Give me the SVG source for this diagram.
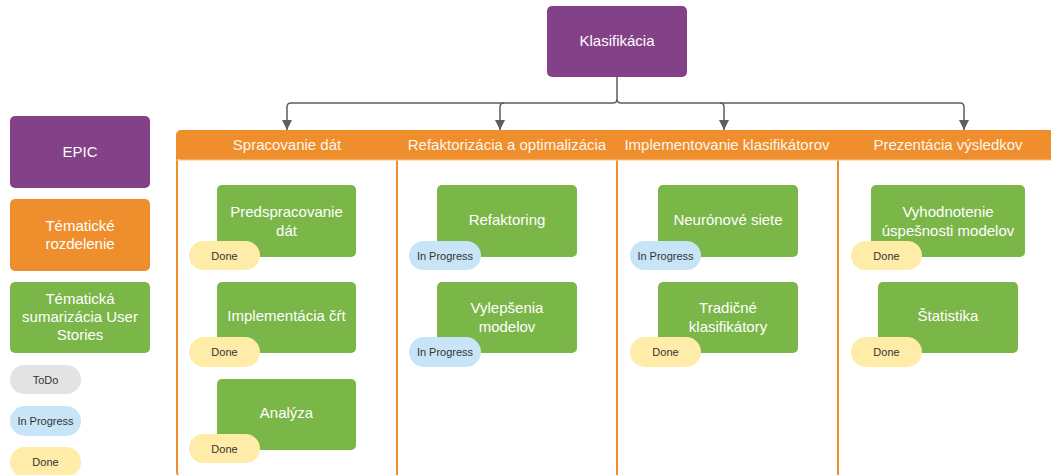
<svg xmlns="http://www.w3.org/2000/svg" width="1051" height="475" viewBox="0 0 1051 475">
  <defs>
    <marker id="arrow" viewBox="0 0 10 10" refX="10" refY="5" markerWidth="10" markerHeight="10" markerUnits="userSpaceOnUse" orient="auto">
      <path d="M0,0 L10,5 L0,10 Z" fill="#5e5e5e"/>
    </marker>
    <style>
      text { font-family: "Liberation Sans", Arial, sans-serif; text-anchor: middle; dominant-baseline: central; }
      .epic { fill: #834187; }
      .theme { fill: #ee8e2d; }
      .story { fill: #7ab648; }
      .todo { fill: #e3e3e3; }
      .prog { fill: #c7e5f7; }
      .done { fill: #ffeca9; }
      .lt { fill: #ffffff; font-size: 15px; }
      .ht { fill: #fff6ea; font-size: 15px; }
      .bt { fill: #333333; font-size: 11px; }
      .lane { fill: #ffffff; stroke: #ee8e2d; stroke-width: 2; }
      .div { stroke: #ee8e2d; stroke-width: 2; }
      .conn { fill: none; stroke: #5e5e5e; stroke-width: 1.5; }
    </style>
  </defs>

  <!-- swimlane container with header strip -->
  <g id="lanes">
    <rect class="lane" x="177" y="131" width="890" height="346" rx="5"/>
    <rect class="theme" x="176" y="130" width="880" height="30" rx="5"/>
    <line x1="176" y1="160" x2="1051" y2="160" stroke="#f9c48c" stroke-width="1"/>
    <line class="div" x1="397" y1="160.5" x2="397" y2="475"/>
    <line class="div" x1="617" y1="160.5" x2="617" y2="475"/>
    <line class="div" x1="838" y1="160.5" x2="838" y2="475"/>
    <text class="ht" x="287" y="144">Spracovanie dát</text>
    <text class="ht" x="507" y="144">Refaktorizácia a optimalizácia</text>
    <text class="ht" x="727" y="144">Implementovanie klasifikátorov</text>
    <text class="ht" x="948" y="144">Prezentácia výsledkov</text>
  </g>

  <!-- connectors -->
  <g id="connectors">
    <path class="conn" d="M617,77 V99 Q617,103 613,103 H291 Q287,103 287,107 V130" marker-end="url(#arrow)"/>
    <path class="conn" d="M504,103 Q500,103 500,107 V130" marker-end="url(#arrow)"/>
    <path class="conn" d="M617,99 Q617,103 621,103 H960 Q964,103 964,107 V130" marker-end="url(#arrow)"/>
    <path class="conn" d="M720,103 Q724,103 724,107 V130" marker-end="url(#arrow)"/>
  </g>

  <!-- epic -->
  <g id="klasifikacia">
    <rect class="epic" x="547" y="6" width="140" height="71" rx="5"/>
    <text class="lt" x="617" y="40">Klasifikácia</text>
  </g>

  <!-- legend -->
  <g id="legend-epic">
    <rect class="epic" x="10" y="116" width="140" height="72" rx="5"/>
    <text class="lt" x="80" y="151">EPIC</text>
  </g>
  <g id="legend-theme">
    <rect class="theme" x="10" y="199" width="140" height="72" rx="5"/>
    <text class="lt" x="80" y="225">Tématické</text>
    <text class="lt" x="80" y="243">rozdelenie</text>
  </g>
  <g id="legend-story">
    <rect class="story" x="10" y="282" width="140" height="71" rx="5"/>
    <text class="lt" x="80" y="298">Tématická</text>
    <text class="lt" x="80" y="316">sumarizácia User</text>
    <text class="lt" x="80" y="334">Stories</text>
  </g>
  <g id="legend-todo">
    <rect class="todo" x="10" y="365" width="71" height="29" rx="14.5"/>
    <text class="bt" x="45.5" y="379.5">ToDo</text>
  </g>
  <g id="legend-progress">
    <rect class="prog" x="10" y="406" width="71" height="30" rx="15"/>
    <text class="bt" x="45.5" y="421">In Progress</text>
  </g>
  <g id="legend-done">
    <rect class="done" x="10" y="447" width="71" height="30" rx="15"/>
    <text class="bt" x="45.5" y="462">Done</text>
  </g>

  <!-- column 1 -->
  <g id="predspracovanie">
    <rect class="story" x="217" y="185" width="139" height="72" rx="5"/>
    <text class="lt" x="286.5" y="211">Predspracovanie</text>
    <text class="lt" x="286.5" y="230">dát</text>
    <rect class="done" x="189" y="241" width="71" height="29" rx="14.5"/>
    <text class="bt" x="224.5" y="255.5">Done</text>
  </g>
  <g id="implementacia-crt">
    <rect class="story" x="217" y="282" width="139" height="71" rx="5"/>
    <text class="lt" x="286.5" y="315">Implementácia čŕt</text>
    <rect class="done" x="189" y="337" width="71" height="30" rx="15"/>
    <text class="bt" x="224.5" y="352">Done</text>
  </g>
  <g id="analyza">
    <rect class="story" x="217" y="379" width="139" height="71" rx="5"/>
    <text class="lt" x="286.5" y="412">Analýza</text>
    <rect class="done" x="189" y="434" width="71" height="29" rx="14.5"/>
    <text class="bt" x="224.5" y="448.5">Done</text>
  </g>

  <!-- column 2 -->
  <g id="refaktoring">
    <rect class="story" x="437" y="185" width="140" height="72" rx="5"/>
    <text class="lt" x="507" y="219">Refaktoring</text>
    <rect class="prog" x="409" y="241" width="72" height="29" rx="14.5"/>
    <text class="bt" x="445" y="255.5">In Progress</text>
  </g>
  <g id="vylepsenia">
    <rect class="story" x="437" y="282" width="140" height="71" rx="5"/>
    <text class="lt" x="507" y="307">Vylepšenia</text>
    <text class="lt" x="507" y="326">modelov</text>
    <rect class="prog" x="409" y="337" width="72" height="30" rx="15"/>
    <text class="bt" x="445" y="352">In Progress</text>
  </g>

  <!-- column 3 -->
  <g id="neuronove-siete">
    <rect class="story" x="658" y="185" width="140" height="72" rx="5"/>
    <text class="lt" x="728" y="219">Neurónové siete</text>
    <rect class="prog" x="630" y="241" width="71" height="29" rx="14.5"/>
    <text class="bt" x="665.5" y="255.5">In Progress</text>
  </g>
  <g id="tradicne">
    <rect class="story" x="658" y="282" width="140" height="71" rx="5"/>
    <text class="lt" x="728" y="307">Tradičné</text>
    <text class="lt" x="728" y="326">klasifikátory</text>
    <rect class="done" x="630" y="337" width="71" height="30" rx="15"/>
    <text class="bt" x="665.5" y="352">Done</text>
  </g>

  <!-- column 4 -->
  <g id="vyhodnotenie">
    <rect class="story" x="871" y="185" width="154" height="72" rx="5"/>
    <text class="lt" x="948" y="211">Vyhodnotenie</text>
    <text class="lt" x="948" y="230">úspešnosti modelov</text>
    <rect class="done" x="851" y="241" width="71" height="29" rx="14.5"/>
    <text class="bt" x="886.5" y="255.5">Done</text>
  </g>
  <g id="statistika">
    <rect class="story" x="878" y="282" width="140" height="71" rx="5"/>
    <text class="lt" x="948" y="315">Štatistika</text>
    <rect class="done" x="851" y="337" width="71" height="30" rx="15"/>
    <text class="bt" x="886.5" y="352">Done</text>
  </g>
</svg>
